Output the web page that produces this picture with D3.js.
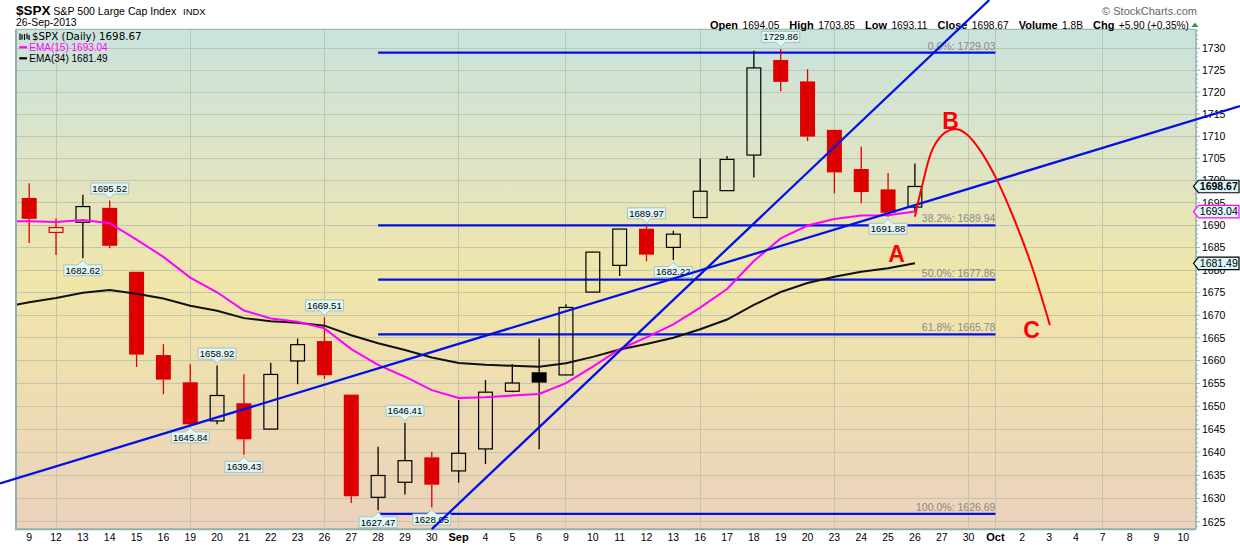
<!DOCTYPE html>
<html><head><meta charset="utf-8">
<script src="https://cdn.jsdelivr.net/npm/d3@7"></script>
<style>body{margin:0;background:#fff;overflow:hidden}</style>
</head><body><svg id="c" width="1240" height="546"></svg>
<script>
// ---------------- DATA ----------------
const dates = ["2013-08-09","2013-08-12","2013-08-13","2013-08-14","2013-08-15","2013-08-16","2013-08-19","2013-08-20","2013-08-21","2013-08-22","2013-08-23","2013-08-26","2013-08-27","2013-08-28","2013-08-29","2013-08-30","2013-09-03","2013-09-04","2013-09-05","2013-09-06","2013-09-09","2013-09-10","2013-09-11","2013-09-12","2013-09-13","2013-09-16","2013-09-17","2013-09-18","2013-09-19","2013-09-20","2013-09-23","2013-09-24","2013-09-25","2013-09-26"];
const openP  = [1696.10,1688.37,1690.65,1693.88,1679.61,1661.22,1655.25,1646.81,1650.66,1645.03,1659.92,1664.29,1652.54,1630.25,1633.50,1638.89,1635.95,1640.72,1653.28,1657.44,1656.85,1675.11,1681.04,1689.21,1685.04,1691.70,1697.73,1705.74,1727.34,1722.44,1711.44,1702.60,1698.02,1694.05];
const highP  = [1699.42,1691.49,1696.81,1695.52,1679.61,1663.60,1659.18,1658.92,1656.99,1659.55,1664.85,1669.51,1652.54,1641.18,1646.41,1640.08,1651.35,1655.72,1659.17,1664.83,1672.40,1684.09,1689.13,1689.97,1688.73,1704.95,1705.52,1729.44,1729.86,1725.23,1711.44,1707.63,1701.71,1703.85];
const lowP   = [1686.02,1683.35,1682.62,1684.83,1658.59,1652.61,1645.84,1646.08,1639.43,1645.03,1654.81,1656.02,1629.05,1627.47,1630.88,1628.05,1633.41,1637.41,1653.07,1640.62,1656.85,1675.11,1678.70,1681.96,1682.22,1691.70,1697.73,1700.68,1720.20,1708.89,1697.10,1694.90,1691.88,1693.11];
const closeP = [1691.42,1689.47,1694.16,1685.39,1661.32,1655.83,1646.06,1652.35,1642.80,1656.96,1663.50,1656.78,1630.48,1634.96,1638.17,1632.97,1639.77,1653.08,1655.08,1655.17,1671.71,1683.99,1689.13,1683.42,1687.99,1697.60,1704.76,1725.52,1722.34,1709.91,1701.84,1697.42,1692.77,1698.67];
const prevClose0 = 1697.48;
// EMA values from the slot before Aug 9 (index -1) to Sep 26
const ema15 = [1690.83,1690.90,1690.72,1691.15,1690.43,1686.79,1682.92,1678.31,1675.07,1671.04,1669.28,1668.56,1667.09,1662.51,1659.07,1656.46,1653.52,1651.80,1651.96,1652.35,1652.70,1655.07,1658.69,1662.49,1665.11,1667.97,1671.67,1675.80,1682.01,1687.05,1689.91,1691.40,1692.15,1692.23,1693.04];
const ema34 = [1671.73,1672.85,1673.80,1674.96,1675.56,1674.75,1673.67,1672.09,1670.96,1669.35,1668.64,1668.35,1667.69,1665.56,1663.81,1662.34,1660.66,1659.47,1659.10,1658.87,1658.66,1659.41,1660.81,1662.43,1663.63,1665.02,1666.88,1669.04,1672.27,1675.13,1677.12,1678.53,1679.61,1680.40,1681.49];
const xLabels = ["9","12","13","14","15","16","19","20","21","22","23","26","27","28","29","30","Sep","4","5","6","9","10","11","12","13","16","17","18","19","20","23","24","25","26","27","30","Oct","2","3","4","7","8","9","10"];
const monthLabels = ["Sep","Oct"];
const gridSlots = [1,6,11,16,20,25,30,35,36,40];
const yTicks = d3.range(1625, 1731, 5);
const fibPct  = ["0.0%","38.2%","50.0%","61.8%","100.0%"];
const fibVals = [1729.03,1689.94,1677.86,1665.78,1626.69];
const fibFrom = 13, fibTo = 36;
const calloutIdx = [3,2,7,6,8,11,13,14,15,23,24,28,32];
const calloutVal = [1695.52,1682.62,1658.92,1645.84,1639.43,1669.51,1627.47,1646.41,1628.05,1689.97,1682.22,1729.86,1691.88];
const calloutUp  = [true,false,true,false,false,true,false,true,false,true,false,true,false];
const trendA = [[6,1645.8],[33,1694.5]];
const trendB = [[15,1623.4],[33,1724.9]];
const projIdx = [33,33.26,33.675,34.12,34.57,34.94,35.42,36.06,36.65,37.29,38.03];
const projVal = [1691.9,1698.6,1707.3,1710.8,1711.6,1710.4,1706.9,1700.1,1692.05,1682.0,1667.8];
const waveLbl = ["A","B","C"];
const waveIdx = [32.32,34.33,37.35];
const waveVal = [1683.7,1713.5,1666.7];
const tagVals = [1698.67,1693.04,1681.49];
const tagBorder = ["#000","#ff00ff","#000"];
const tagBold = [true,false,false];
const hdrLabels = ["Open","High","Low","Close","Volume","Chg"];
const hdrValues = ["1694.05","1703.85","1693.11","1698.67","1.8B","+5.90 (+0.35%)"];

// ---------------- SETUP ----------------
const FONT = "'Liberation Sans', Arial, sans-serif";
const svg = d3.select("#c").style("font-family", FONT);
const P = {left:16, right:1196, top:29.3, bottom:529.3};
const x = d3.scaleLinear().domain([0,43]).range([29.2,1183.3]);
const y = d3.scaleLog().domain([1625,1730]).range([521.7,48.3]);

const defs = svg.append("defs");
const grad = defs.append("linearGradient").attr("id","bg").attr("x1",0).attr("y1",0).attr("x2",0).attr("y2",1);
[[0,"#c9e3de"],[0.28,"#e0e4c4"],[0.5,"#f0e6a9"],[0.75,"#eedcb2"],[1,"#ebd2bd"]].forEach(s=>grad.append("stop").attr("offset",s[0]).attr("stop-color",s[1]));
defs.append("clipPath").attr("id","clip").append("rect")
  .attr("x",P.left).attr("y",P.top).attr("width",P.right-P.left).attr("height",P.bottom-P.top);

svg.append("rect").attr("x",P.left).attr("y",P.top).attr("width",P.right-P.left).attr("height",P.bottom-P.top).attr("fill","url(#bg)");

// grid
const grid = svg.append("g").attr("stroke","#c2c6ab").attr("stroke-width",1).attr("shape-rendering","crispEdges");
yTicks.forEach(v=>grid.append("line").attr("x1",P.left).attr("x2",P.right).attr("y1",y(v)).attr("y2",y(v)));
gridSlots.forEach(i=>grid.append("line").attr("x1",x(i)).attr("x2",x(i)).attr("y1",P.top).attr("y2",P.bottom));

// fib lines
const fib = svg.append("g");
fibVals.forEach((v,k)=>{
  fib.append("line").attr("x1",x(fibFrom)).attr("x2",x(fibTo)).attr("y1",y(v)).attr("y2",y(v))
    .attr("stroke","#0010e6").attr("stroke-width",2.3);
  fib.append("text").attr("x",x(fibTo)).attr("y",y(v)-3).attr("text-anchor","end")
    .attr("font-size","10.5px").attr("fill","#8a8a8a").text(fibPct[k]+": "+fibVals[k].toFixed(2));
});

// candles
const cg = svg.append("g");
const bw = 15;
dates.forEach((d,i)=>{
  const o=openP[i], h=highP[i], l=lowP[i], c=closeP[i];
  const pc = i ? closeP[i-1] : prevClose0;
  const col = c < pc ? "#dd0000" : "#000";
  const filled = c < o;
  const top = Math.max(o,c), bot = Math.min(o,c);
  const cx = x(i);
  cg.append("line").attr("x1",cx).attr("x2",cx).attr("y1",y(h)).attr("y2",y(top)).attr("stroke",col).attr("stroke-width",1.3);
  cg.append("line").attr("x1",cx).attr("x2",cx).attr("y1",y(bot)).attr("y2",y(l)).attr("stroke",col).attr("stroke-width",1.3);
  const r = cg.append("rect").attr("x",cx-bw/2).attr("width",bw);
  if (filled) {
    r.attr("y",y(top)).attr("height",Math.max(1,y(bot)-y(top))).attr("fill",col);
  } else {
    r.attr("x",cx-bw/2+0.6).attr("width",bw-1.2).attr("y",y(top)).attr("height",Math.max(1,y(bot)-y(top)))
     .attr("fill","none").attr("stroke",col).attr("stroke-width",1.2);
  }
});

// EMA lines
const emaLine = d3.line().x((d,i)=>x(i-1)).y(d=>y(d));
const eg = svg.append("g").attr("clip-path","url(#clip)");
eg.append("path").attr("d",emaLine(ema34)).attr("fill","none").attr("stroke","#111").attr("stroke-width",2);
eg.append("path").attr("d",emaLine(ema15)).attr("fill","none").attr("stroke","#ff00ff").attr("stroke-width",2);

// callouts
const cog = svg.append("g");
calloutIdx.forEach((i,k)=>{
  const v = calloutVal[k], cx = x(i), py = y(v), w = 38, h = 11, up = calloutUp[k];
  let path, ty;
  if (up) {
    const b = py-6.5, t = b-h;
    path = `M${cx-w/2},${t}H${cx+w/2}V${b}H${cx+4.5}L${cx},${py-2}L${cx-4.5},${b}H${cx-w/2}Z`;
    ty = b-2.2;
  } else {
    const t = py+6.5, b = t+h;
    path = `M${cx-w/2},${t}H${cx-4.5}L${cx},${py+2}L${cx+4.5},${t}H${cx+w/2}V${b}H${cx-w/2}Z`;
    ty = b-2.2;
  }
  cog.append("path").attr("d",path).attr("fill","#e2f6f6").attr("stroke","#9fc4c4").attr("stroke-width",1);
  cog.append("text").attr("x",cx).attr("y",ty).attr("text-anchor","middle").attr("font-size","9.6px").attr("fill","#000").text(v.toFixed(2));
});

// legend
const lg = svg.append("g");
lg.append("path").attr("d","M20,33.5V40M22,34.5V39.5M24.5,34V40M27,33.5V39M29,35V40").attr("stroke","#000").attr("stroke-width",1.2);
lg.append("text").attr("x",32).attr("y",39.8).attr("font-family","'DejaVu Sans', Verdana, sans-serif").attr("font-size","10.3px").attr("fill","#000").text("$SPX (Daily) 1698.67");
lg.append("line").attr("x1",19.3).attr("x2",27).attr("y1",47.3).attr("y2",47.3).attr("stroke","#ff00ff").attr("stroke-width",2.2);
lg.append("text").attr("x",29.3).attr("y",51).attr("font-size","10px").attr("fill","#ff00ff").text("EMA(15) 1693.04");
lg.append("line").attr("x1",19.3).attr("x2",27).attr("y1",58.3).attr("y2",58.3).attr("stroke","#000").attr("stroke-width",2.2);
lg.append("text").attr("x",29.3).attr("y",62).attr("font-size","10px").attr("fill","#000").text("EMA(34) 1681.49");

// axes
const ax = svg.append("g");
xLabels.forEach((t,i)=>{
  ax.append("text").attr("x",x(i)).attr("y",541).attr("text-anchor","middle")
    .attr("font-size", monthLabels.includes(t) ? "11px" : "10.5px")
    .attr("font-weight", monthLabels.includes(t) ? "bold" : "normal")
    .attr("fill","#000").text(t);
});
d3.range(1624,1735).forEach(v=>{
  if (y(v) < P.top || y(v) > P.bottom) return;
  ax.append("line").attr("x1",P.right).attr("x2",P.right+(v%5===0?4:2)).attr("y1",y(v)).attr("y2",y(v))
    .attr("stroke","#8fb0b0").attr("stroke-width",1);
});
yTicks.forEach(v=>{
  ax.append("text").attr("x",1202).attr("y",y(v)+3.8).attr("font-size","10.5px").attr("fill","#000").text(v);
});
// borders
svg.append("line").attr("x1",P.left).attr("x2",P.right).attr("y1",P.top).attr("y2",P.top).attr("stroke","#9fb8b8").attr("stroke-width",1.2);
svg.append("line").attr("x1",P.right).attr("x2",P.right).attr("y1",P.top).attr("y2",P.bottom).attr("stroke","#8fb0b0").attr("stroke-width",1.5);
svg.append("line").attr("x1",P.left).attr("x2",P.left).attr("y1",P.top).attr("y2",P.bottom+1).attr("stroke","#8fb0b0").attr("stroke-width",2);
svg.append("line").attr("x1",P.left).attr("x2",P.right).attr("y1",P.bottom).attr("y2",P.bottom).attr("stroke","#8fb0b0").attr("stroke-width",2);

// right-side price tags
tagVals.forEach((v,k)=>{
  const cy = y(v), h = 12.5;
  const p = `M1193.5,${cy}L1198.5,${cy-h/2}H1239V${cy+h/2}H1198.5Z`;
  svg.append("path").attr("d",p).attr("fill","#dcf6fa").attr("stroke",tagBorder[k]).attr("stroke-width",1.2);
  svg.append("text").attr("x",1218.8).attr("y",cy+3.8).attr("text-anchor","middle")
    .attr("font-size","10.5px").attr("font-weight",tagBold[k]?"bold":"normal").attr("fill","#000").text(v.toFixed(2));
});

// header
const hd = svg.append("g");
hd.append("text").attr("x",16).attr("y",15).attr("fill","#000").attr("font-weight","bold").attr("font-size","13.5px").text("$SPX");
hd.append("text").attr("x",53.3).attr("y",14.6).attr("font-size","10.6px").attr("fill","#000").text("S&P 500 Large Cap Index");
hd.append("text").attr("x",183).attr("y",14.6).attr("font-size","9.5px").attr("fill","#000").text("INDX");
hd.append("text").attr("x",16).attr("y",26.2).attr("font-size","10.5px").attr("fill","#000").text("26-Sep-2013");
hd.append("text").attr("x",1197).attr("y",14.5).attr("text-anchor","end").attr("font-size","11px").attr("fill","#666").text("\u00A9 StockCharts.com");
const row = hd.append("text").attr("x",1189).attr("y",28.5).attr("text-anchor","end").attr("fill","#000");
hdrLabels.forEach((lb,k)=>{
  row.append("tspan").attr("font-weight","bold").attr("font-size","11px").attr("dx", k?10:0).text(lb);
  row.append("tspan").attr("font-size","10.2px").attr("dx",4.4).text(hdrValues[k]);
});
hd.append("path").attr("d","M1191.5,27H1198.5L1195,22.5Z").attr("fill","#2e9a3a");

// trendlines (unclipped)
const tl = svg.append("g").attr("stroke","#0010e6").attr("stroke-width",2.3).attr("fill","none");
{
  const ax_ = x(trendA[0][0]), ay = y(trendA[0][1]), bx = x(trendA[1][0]), by = y(trendA[1][1]);
  const m = (by-ay)/(bx-ax_);
  tl.append("path").attr("d", d3.line()([[0, ay + m*(0-ax_)], [1240, ay + m*(1240-ax_)]]));
}
{
  const ax_ = x(trendB[0][0]), ay = y(trendB[0][1]), bx = x(trendB[1][0]), by = y(trendB[1][1]);
  const m = (by-ay)/(bx-ax_);
  const xEnd = ax_ + (0-ay)/m;
  tl.append("path").attr("d", d3.line()([[ax_,ay],[xEnd,0]]));
}

// projection curve
const proj = projIdx.map((i,k)=>[x(i), y(projVal[k])]);
svg.append("path").attr("d", d3.line().curve(d3.curveCatmullRom.alpha(0.5))(proj))
  .attr("fill","none").attr("stroke","#ff0000").attr("stroke-width",2);
waveLbl.forEach((t,k)=>{
  svg.append("text").attr("x",x(waveIdx[k])).attr("y",y(waveVal[k])+8.2).attr("text-anchor","middle")
    .attr("font-size","23px").attr("font-weight","bold").attr("fill","#ff0000").text(t);
});
</script>
</body></html>
